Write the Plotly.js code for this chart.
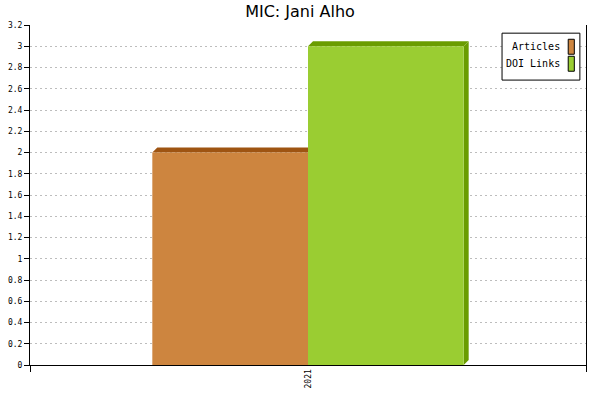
<!DOCTYPE html>
<html>
<head>
<meta charset="utf-8">
<script src="https://cdn.plot.ly/plotly-3.0.1.min.js"></script>
<style>body{margin:0;background:#fff}</style>
</head>
<body>
<div id="myDiv" style="width:600px;height:400px"></div>
<script>
var categories = ["2021"];
var seriesNames = ["Articles", "DOI Links"];
var articles = [2];
var doiLinks = [3];
var faceColors = ["#CD853F", "#9ACD32"];
var sideColors = ["#9E5412", "#6A9C00"];

var barW = 0.28;
var depthX = 0.009, depthY = 0.047;
var values = [articles, doiLinks];

var data = [];
var shapes = [];
var annotations = [];
for (var s = 0; s < values.length; s++) {
  var off = -barW + s * barW;
  data.push({
    type: "bar",
    name: seriesNames[s],
    x: categories.map(function (c, i) { return i; }),
    y: values[s],
    width: barW,
    offset: off,
    marker: { color: faceColors[s], line: { width: 0 } },
    showlegend: false,
    hoverinfo: "y"
  });
  // 3D top cap and right side drawn from the same values
  for (var i = 0; i < values[s].length; i++) {
    var x0 = i + off, x1 = x0 + barW, v = values[s][i];
    shapes.push({
      type: "path", xref: "x", yref: "y", layer: "between",
      path: "M" + x0 + "," + v + " L" + (x0 + depthX) + "," + (v + depthY) +
            " L" + (x1 + depthX) + "," + (v + depthY) + " L" + x1 + "," + v + " Z",
      fillcolor: sideColors[s], line: { width: 0 }
    });
    shapes.push({
      type: "path", xref: "x", yref: "y", layer: "between",
      path: "M" + x1 + "," + v + " L" + (x1 + depthX) + "," + (v + depthY) +
            " L" + (x1 + depthX) + "," + depthY + " L" + x1 + ",0 Z",
      fillcolor: sideColors[s], line: { width: 0 }
    });
  }
}

// legend box (swatches on the right like the original)
shapes.push({
  type: "rect", xref: "paper", yref: "paper", layer: "above",
  x0: 0.849, x1: 0.989, y0: 0.838, y1: 0.976,
  fillcolor: "white", line: { color: "black", width: 1 }
});
for (var k = 0; k < seriesNames.length; k++) {
  var yc = 0.936 - k * 0.05;
  shapes.push({
    type: "rect", xref: "paper", yref: "paper", layer: "above",
    x0: 0.968, x1: 0.979, y0: yc - 0.022, y1: yc + 0.022,
    fillcolor: faceColors[k], line: { color: "black", width: 1 }
  });
  annotations.push({
    xref: "paper", yref: "paper", x: 0.957, y: yc,
    xanchor: "right", yanchor: "middle", showarrow: false,
    text: seriesNames[k],
    font: { family: "DejaVu Sans Mono", size: 10, color: "black" }
  });
}

var layout = {
  width: 600, height: 400,
  margin: { t: 25, r: 14, l: 30, b: 35 },
  paper_bgcolor: "white", plot_bgcolor: "white",
  title: {
    text: "MIC: Jani Alho",
    font: { family: "DejaVu Sans", size: 16, color: "black" },
    x: 0.5, xanchor: "center", y: 0.972, yanchor: "middle", yref: "container"
  },
  barmode: "overlay",
  xaxis: {
    type: "linear", range: [-0.5, 0.5],
    tickmode: "array", tickvals: [0], ticktext: categories,
    tickangle: -90, ticks: "", ticklen: 5, tickcolor: "white",
    showgrid: false, zeroline: false,
    showline: true, linecolor: "black", linewidth: 1,
    tickfont: { family: "DejaVu Sans Mono", size: 8, color: "black" },
    minor: { tickmode: "array", tickvals: [-0.5, 0.5], ticks: "outside", ticklen: 6, tickcolor: "black", showgrid: false }
  },
  yaxis: {
    range: [0, 3.2], dtick: 0.2, tick0: 0,
    ticks: "outside", ticklen: 5, tickcolor: "black",
    showline: true, linecolor: "black", linewidth: 1, mirror: true,
    zeroline: false,
    gridcolor: "#bdbdbd", griddash: "2px,3px", gridwidth: 1,
    tickfont: { family: "DejaVu Sans Mono", size: 8, color: "black" }
  },
  shapes: shapes,
  annotations: annotations
};
Plotly.newPlot("myDiv", data, layout, { displayModeBar: false });
</script>
</body>
</html>
